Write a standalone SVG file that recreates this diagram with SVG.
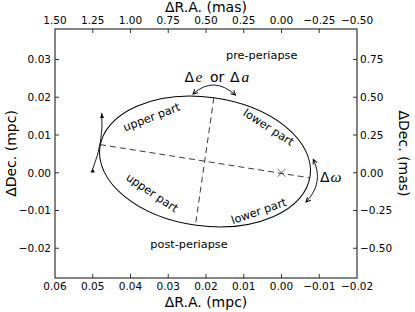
<svg xmlns="http://www.w3.org/2000/svg" width="415" height="312" viewBox="0 0 415 312">
<style>
text{font-family:"DejaVu Sans","Liberation Sans",sans-serif;fill:#000}
.tk{font-size:10.5px}
.ax{font-size:14px}
.lb{font-size:11.3px}
.mi{font-family:"Liberation Serif","DejaVu Serif",serif;font-style:italic;font-size:15.5px}
.md{font-size:14px}
.frame{fill:none;stroke:#333;stroke-width:1.2}
.tick{fill:none;stroke:#333;stroke-width:1}
.orbit{fill:none;stroke:#000;stroke-width:1}
.dash{fill:none;stroke:#222;stroke-width:0.9;stroke-dasharray:6 4}
.arr{fill:none;stroke:#000;stroke-width:0.9}
</style>
<defs>
<marker id="v" markerUnits="userSpaceOnUse" markerWidth="10" markerHeight="10" refX="0" refY="0" viewBox="-6 -5 10 10" orient="auto-start-reverse" overflow="visible">
<path d="M-4.5,-2.3 L0,0 L-4.5,2.3" fill="none" stroke="#000" stroke-width="1"/>
</marker>
<marker id="tri" markerUnits="userSpaceOnUse" markerWidth="10" markerHeight="10" refX="0" refY="0" viewBox="-6 -5 10 10" orient="auto" overflow="visible">
<path d="M0,0 L-5,-2 L-5,2 Z" fill="#000"/>
</marker>
</defs>
<g id="axes">
<rect class="frame" x="55" y="29" width="302" height="249"/>
<path class="tick" d="M92.75,278v-4M130.5,278v-4M168.25,278v-4M206,278v-4M243.75,278v-4M281.5,278v-4M319.25,278v-4M92.75,29v4M130.5,29v4M168.25,29v4M206,29v4M243.75,29v4M281.5,29v4M319.25,29v4M55,59.5h4M55,97.25h4M55,135h4M55,172.75h4M55,210.5h4M55,248.25h4M357,59.5h-4M357,97.25h-4M357,135h-4M357,172.75h-4M357,210.5h-4M357,248.25h-4"/>
<g class="tk" text-anchor="middle">
<text x="55" y="290">0.06</text><text x="92.75" y="290">0.05</text><text x="130.5" y="290">0.04</text><text x="168.25" y="290">0.03</text><text x="206" y="290">0.02</text><text x="243.75" y="290">0.01</text><text x="281.5" y="290">0.00</text><text x="319.25" y="290">−0.01</text><text x="357" y="290">−0.02</text>
<text x="55" y="24">1.50</text><text x="92.75" y="24">1.25</text><text x="130.5" y="24">1.00</text><text x="168.25" y="24">0.75</text><text x="206" y="24">0.50</text><text x="243.75" y="24">0.25</text><text x="281.5" y="24">0.00</text><text x="319.25" y="24">−0.25</text><text x="357" y="24">−0.50</text>
</g>
<g class="tk" text-anchor="end">
<text x="51" y="63.3">0.03</text><text x="51" y="101">0.02</text><text x="51" y="138.8">0.01</text><text x="51" y="176.5">0.00</text><text x="51" y="214.3">−0.01</text><text x="51" y="252">−0.02</text>
</g>
<g class="tk" text-anchor="start">
<text x="360" y="63.3">0.75</text><text x="360" y="101">0.50</text><text x="360" y="138.8">0.25</text><text x="360" y="176.5">0.00</text><text x="360" y="214.3">−0.25</text><text x="360" y="252">−0.50</text>
</g>
<g class="ax" text-anchor="middle">
<text x="206" y="12">ΔR.A. (mas)</text>
<text x="206" y="307">ΔR.A. (mpc)</text>
<text transform="translate(15.5,153.5) rotate(-90)">ΔDec. (mpc)</text>
<text transform="translate(399,153.5) rotate(90)">ΔDec. (mas)</text>
</g>
</g>
<g id="orbit">
<ellipse class="orbit" cx="205" cy="161.5" rx="106.1" ry="64.4" transform="rotate(7.8 205 161.5)"/>
</g>
<g id="focus">
<path d="M277.5,168.75L285.5,176.75M285.5,168.75L277.5,176.75" stroke="#555" stroke-width="0.9" fill="none"/>
</g>
<g id="connectors">
<path class="dash" d="M100.1,144.6L309.3,177.8"/>
<path class="dash" d="M213.9,97.6L195.5,224.5"/>
<path class="arr" d="M92.7,169 Q104,141 101.7,113" marker-end="url(#tri)"/>
<polygon points="92.7,168.2 90.6,172.6 94.8,172.6" fill="#000"/>
<path class="arr" d="M193,94 Q213.5,75.5 235.5,95" marker-start="url(#v)" marker-end="url(#v)"/>
<path class="arr" d="M313.3,159.5 Q324.4,182.8 306,202" marker-start="url(#v)" marker-end="url(#v)"/>
</g>
<g id="labels" class="lb" text-anchor="middle">
<text x="261.7" y="58.5">pre-periapse</text>
<text x="189" y="248">post-periapse</text>
<text transform="translate(153,120.7) rotate(-21)">upper part</text>
<text transform="translate(266.5,130.5) rotate(33)">lower part</text>
<text transform="translate(150,196) rotate(34)">upper part</text>
<text transform="translate(260,214.8) rotate(-19)">lower part</text>
</g>
<g id="delta-e">
<text class="md" x="184.5" y="82">Δ</text><text class="mi" x="195.5" y="82">e</text><text class="md" x="210" y="82">or</text><text class="md" x="230" y="82">Δ</text><text class="mi" x="241.5" y="82">a</text>
</g>
<g id="delta-w">
<text class="md" x="320" y="182">Δ</text><text class="mi" x="330.5" y="182">ω</text>
</g>
</svg>
